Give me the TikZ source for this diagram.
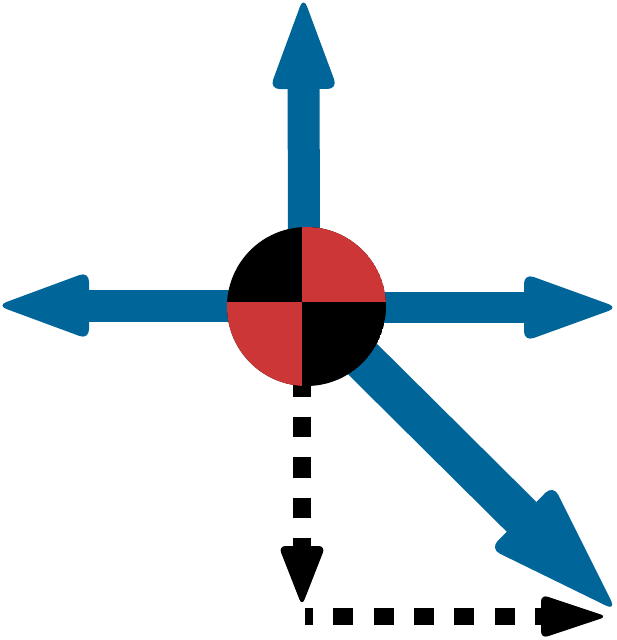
\documentclass[tikz,border=0pt]{standalone}
\usetikzlibrary{calc}
\definecolor{bl}{RGB}{0,102,153}
\definecolor{rd}{RGB}{205,54,54}
\newcommand\myhead[6]{% from, tip, length, halfwidth, radius, colour
  \coordinate (hb) at ($(#2)!#3!(#1)$);
  \fill[#6, rounded corners=#5] ($(hb)!#4!90:(#2)$) -- (#2) -- ($(hb)!#4!-90:(#2)$) -- cycle;
}
\tikzset{
  shaft/.style={draw=bl, line width=32pt},
  dshaft/.style={draw=black, line width=18pt}
}
\begin{document}
\begin{tikzpicture}[x=1pt,y=-1pt]
\useasboundingbox (0,0) rectangle (616,640);
% named points
\coordinate (c) at (306.5,306.5);
\coordinate (upS) at (304,306);
\coordinate (upT) at (303.5,-3);
\coordinate (lfS) at (306,305.5);
\coordinate (lfT) at (-3,305.5);
\coordinate (rtS) at (306,307.5);
\coordinate (rtT) at (618,307.5);
\coordinate (dgS) at (305,302);
\coordinate (dgT) at (616,610.5);
\coordinate (vS) at (302,376);
\coordinate (vT) at (302,606);
\coordinate (hS) at (305,616.5);
\coordinate (hT) at (607,616.5);
% blue arrows
\myhead{upS}{upT}{92pt}{34pt}{10pt}{bl}
\draw[shaft] (upS) -- ($(hb)!1pt!(upT)$);
\myhead{lfS}{lfT}{92pt}{34pt}{10pt}{bl}
\draw[shaft] (lfS) -- ($(hb)!1pt!(lfT)$);
\myhead{rtS}{rtT}{94pt}{34pt}{10pt}{bl}
\draw[shaft, line width=31pt] (rtS) -- ($(hb)!1pt!(rtT)$);
\myhead{dgS}{dgT}{133pt}{45pt}{11pt}{bl}
\draw[shaft, line width=42pt] (dgS) -- ($(hb)!1pt!(dgT)$);
% dashed arrows
\draw[dshaft, dash pattern=on 20.5pt off 20pt] (vS) -- ($(vS)+(0,172)$);
\myhead{vS}{vT}{60pt}{23.5pt}{7pt}{black}
\draw[dshaft, line width=17pt, dash pattern=on 20pt off 20.3pt, dash phase=12pt] (hS) -- ($(hS)+(240,0)$);
\myhead{hS}{hT}{66pt}{22pt}{7pt}{black}
% target circle
\begin{scope}
  \clip (c) circle[radius=79.5];
  \fill[black] (c) circle[radius=79.5];
  \fill[rd] (302,302) rectangle (400,200);
  \fill[rd] (302,302) rectangle (200,400);
\end{scope}
\end{tikzpicture}
\end{document}
